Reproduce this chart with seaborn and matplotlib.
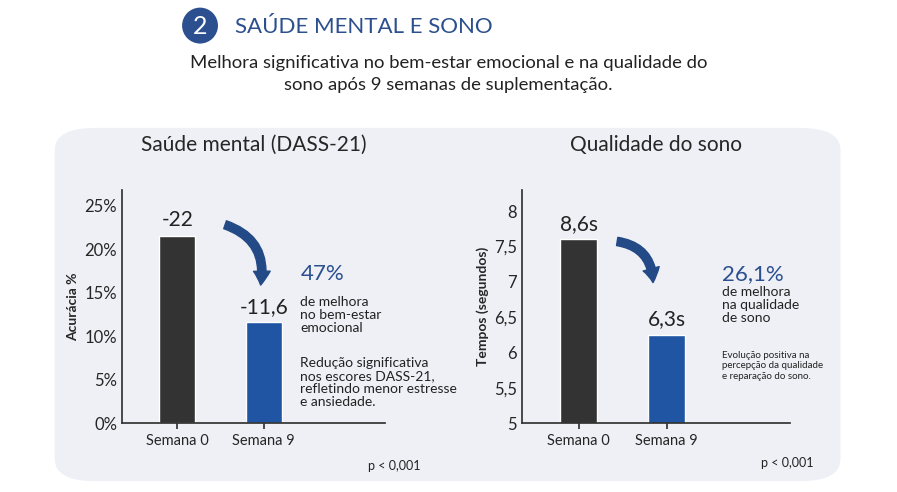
import matplotlib.pyplot as plt
import seaborn as sns
import pandas as pd
from matplotlib.patches import FancyBboxPatch, FancyArrowPatch, Ellipse

sns.set_theme(style="white")
plt.rcParams["font.family"] = ["Lato", "DejaVu Sans"]

weeks = ["Semana 0", "Semana 9"]
mental_vals = [21.5, 11.6]
mental_labels = ["-22", "-11,6"]
sleep_vals = [7.6, 6.25]
sleep_labels = ["8,6s", "6,3s"]

DARK = "#333333"
BLUE = "#1f55a3"
NAVY = "#2b4f8f"

fig = plt.figure(figsize=(8.97, 4.92), dpi=100)
fig.patch.set_facecolor("white")

# panel background
fig.patches.append(FancyBboxPatch((0.061, 0.022), 0.876, 0.718, boxstyle="round,pad=0,rounding_size=0.045",
                                  transform=fig.transFigure, fc="#eef0f5", ec="none", zorder=-5))

# header
fig.patches.append(Ellipse((0.223, 0.948), 0.04, 0.073, transform=fig.transFigure, fc=NAVY, ec="none"))
fig.text(0.223, 0.946, "2", color="white", fontsize=18, ha="center", va="center")
fig.text(0.262, 0.946, "SAÚDE MENTAL E SONO", color=NAVY, fontsize=16, va="center")
fig.text(0.5, 0.85, "Melhora significativa no bem-estar emocional e na qualidade do\nsono após 9 semanas de suplementação.",
         ha="center", va="center", fontsize=13.3, color="#222222", linespacing=1.45)


def panel(rect, vals, labels, ylim, yticks, yticklabels, ylabel, title):
    ax = fig.add_axes(rect, zorder=2)
    ax.set_facecolor("none")
    df = pd.DataFrame({"week": weeks, "val": vals})
    sns.barplot(data=df, x="week", y="val", hue="week", palette=[DARK, BLUE],
                width=0.42, legend=False, ax=ax, saturation=1)
    ax.set_ylim(*ylim)
    ax.set_xlim(-0.64, 2.4)
    ax.set_yticks(yticks)
    ax.set_yticklabels(yticklabels, fontsize=12)
    ax.tick_params(axis="x", labelsize=10.5, length=4, color="#333333", bottom=True)
    ax.tick_params(axis="y", length=0)
    ax.set_xlabel("")
    ax.set_ylabel(ylabel, fontsize=10, fontweight="bold")
    for s in ["top", "right"]:
        ax.spines[s].set_visible(False)
    for s in ["left", "bottom"]:
        ax.spines[s].set_color("#333333")
    for i, (v, l) in enumerate(zip(vals, labels)):
        ax.annotate(l, (i, v), xytext=(0, 4), textcoords="offset points",
                    ha="center", va="bottom", fontsize=15, color="#222222")
    ax.set_title(title, fontsize=15, pad=28)
    return ax


ax1 = panel([0.136, 0.140, 0.293, 0.474], mental_vals, mental_labels, (0, 26.8),
            [0, 5, 10, 15, 20, 25], ["0%", "5%", "10%", "15%", "20%", "25%"],
            "Acurácia %", "Saúde mental (DASS-21)")
ax2 = panel([0.582, 0.140, 0.299, 0.474], sleep_vals, sleep_labels, (5, 8.3),
            [5, 5.5, 6, 6.5, 7, 7.5, 8], ["5", "5,5", "6", "6,5", "7", "7,5", "8"],
            "Tempos (segundos)", "Qualidade do sono")

# curved arrows
for x0, y0, x1, y1 in [(0.248, 0.545, 0.29, 0.415), (0.685, 0.51, 0.728, 0.42)]:
    fig.patches.append(FancyArrowPatch((x0, y0), (x1, y1), transform=fig.transFigure,
                                       connectionstyle="arc3,rad=-0.45", arrowstyle="simple,head_width=12,head_length=10,tail_width=6",
                                       color="#234a86", zorder=3))

# side notes
fig.text(0.335, 0.43, "47%", fontsize=16, color=NAVY)
fig.text(0.335, 0.325, "de melhora\nno bem-estar\nemocional", fontsize=10, color="#222222", linespacing=1.1)
fig.text(0.335, 0.175, "Redução significativa\nnos escores DASS-21,\nrefletindo menor estresse\ne ansiedade.",
         fontsize=10, color="#222222", linespacing=1.1)
fig.text(0.805, 0.43, "26,1%", fontsize=16, color=NAVY)
fig.text(0.805, 0.345, "de melhora\nna qualidade\nde sono", fontsize=10, color="#222222", linespacing=1.1)
fig.text(0.805, 0.23, "Evolução positiva na\npercepção da qualidade\ne reparação do sono.",
         fontsize=7, color="#222222", linespacing=1.2)

fig.text(0.41, 0.045, "p < 0,001", fontsize=9, color="#222222")
fig.text(0.848, 0.05, "p < 0,001", fontsize=9, color="#222222")

fig.savefig("out.png", dpi=100)
